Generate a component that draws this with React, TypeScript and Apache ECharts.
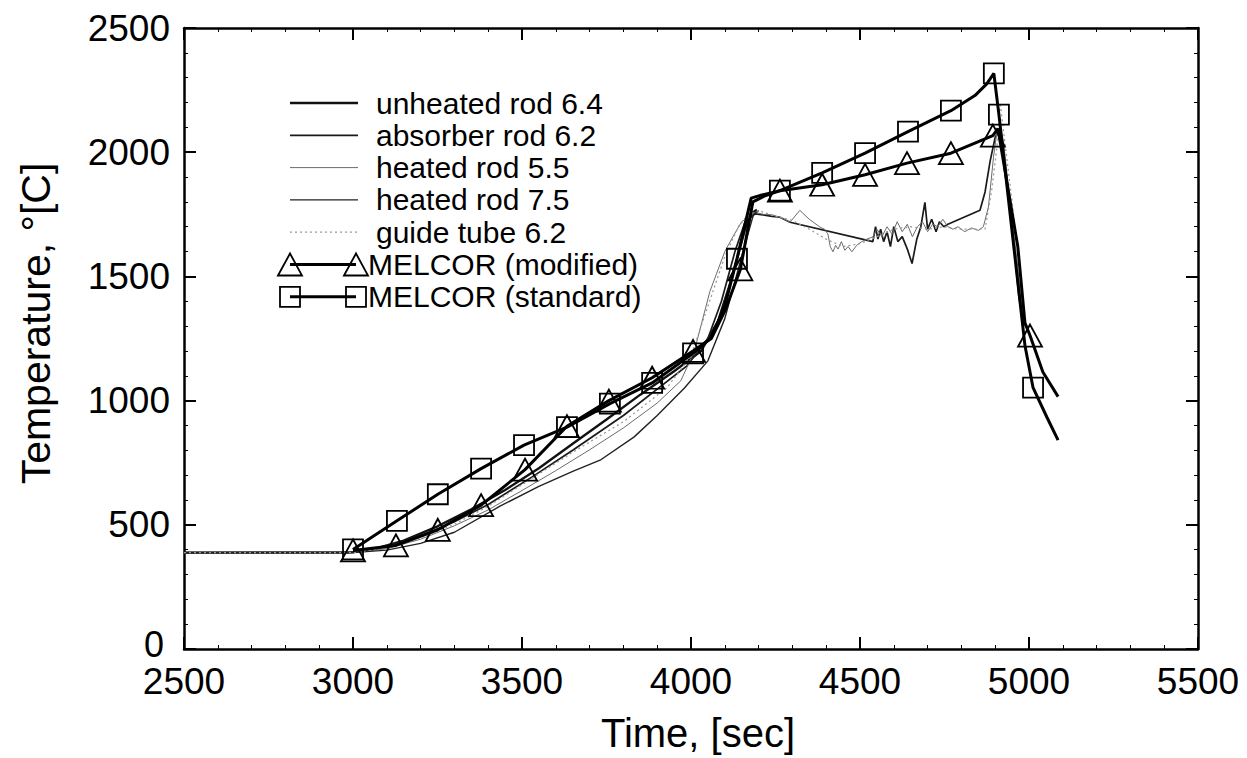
import React, { useEffect, useRef } from "react";
import * as echarts from "echarts";

// ---------- axis ticks ----------
const xTickLabels = ["2500", "3000", "3500", "4000", "4500", "5000", "5500"];
const yTickLabels = ["0", "500", "1000", "1500", "2000", "2500"];

// ---------- experimental data ----------
const unheatedTime = [2500, 2990, 3050, 3150, 3250, 3350, 3450, 3550, 3650, 3750, 3850, 3950, 4030, 4080, 4120, 4160, 4180, 4195];
const unheatedTemp = [388, 388, 398, 436, 494, 562, 640, 728, 826, 924, 1024, 1118, 1200, 1320, 1490, 1690, 1755, 1768];

const absorberTime = [2500, 3000, 3100, 3200, 3300, 3400, 3529, 3650, 3800, 3988, 4050, 4090, 4130, 4160, 4190, 4213, 4240, 4263, 4293, 4538, 4546, 4553, 4561, 4570, 4580, 4590, 4600, 4612, 4625, 4640, 4654, 4668, 4680, 4692, 4700, 4712, 4725, 4735, 4748, 4760, 4855, 4870, 4885, 4900, 4915, 4930, 4950, 4970, 4985];
const absorberTemp = [388, 390, 412, 455, 512, 582, 692, 800, 940, 1140, 1250, 1400, 1600, 1720, 1752, 1748, 1742, 1738, 1718, 1640, 1700, 1650, 1690, 1640, 1680, 1620, 1700, 1640, 1660, 1610, 1552, 1650, 1700, 1798, 1690, 1730, 1680, 1720, 1700, 1710, 1766, 1840, 1964, 2060, 2095, 1950, 1700, 1420, 1300];

const heated55Time = [2500, 3000, 3100, 3200, 3300, 3400, 3500, 3600, 3700, 3800, 3900, 3970, 4010, 4056, 4100, 4124, 4150, 4189, 4213, 4240, 4263, 4293, 4322, 4350, 4382, 4395, 4405, 4412, 4420, 4428, 4435, 4445, 4455, 4465, 4476, 4490, 4505, 4520, 4538, 4550, 4565, 4580, 4595, 4610, 4625, 4640, 4655, 4670, 4685, 4700, 4715, 4730, 4745, 4760, 4775, 4790, 4810, 4830, 4850, 4865, 4880, 4895, 4905, 4915, 4925, 4945, 4965, 4982];
const heated55Temp = [388, 388, 404, 442, 496, 560, 638, 718, 802, 890, 990, 1080, 1200, 1440, 1600, 1660, 1720, 1758, 1750, 1748, 1738, 1718, 1766, 1730, 1698, 1690, 1671, 1620, 1599, 1625, 1610, 1640, 1605, 1620, 1599, 1625, 1640, 1650, 1659, 1690, 1660, 1700, 1670, 1720, 1680, 1710, 1660, 1700, 1720, 1680, 1710, 1700, 1730, 1700, 1690, 1700, 1680, 1695, 1685, 1700, 1780, 1980, 2080, 2100, 2040, 1780, 1560, 1330];

const heated75Time = [2500, 3000, 3100, 3200, 3300, 3435, 3550, 3650, 3731, 3831, 3900, 3980, 4050, 4100, 4150, 4185, 4200];
const heated75Temp = [388, 388, 398, 425, 470, 575, 655, 715, 760, 853, 940, 1050, 1160, 1330, 1580, 1750, 1765];

const guideTime = [2500, 3000, 3100, 3200, 3300, 3400, 3533, 3650, 3800, 3929, 4000, 4050, 4100, 4140, 4170, 4200, 4250, 4300, 4350, 4400, 4450, 4500, 4550, 4600, 4650, 4700, 4750, 4790, 4870, 4890, 4905, 4915, 4925, 4950, 4970];
const guideTemp = [388, 388, 408, 448, 502, 575, 690, 792, 915, 1052, 1180, 1380, 1580, 1700, 1750, 1765, 1742, 1725, 1690, 1650, 1620, 1632, 1660, 1690, 1700, 1690, 1700, 1690, 1690, 1850, 2020, 2200, 2080, 1800, 1550];

// ---------- MELCOR data ----------
const melcorModTime = [3000, 3127, 3251, 3379, 3509, 3633, 3757, 3885, 4006, 4060, 4100, 4146, 4183, 4215, 4263, 4388, 4515, 4639, 4769, 4893, 4908, 4967, 4988, 5003, 5041, 5086];
const melcorModTemp = [397, 417, 480, 579, 722, 897, 1000, 1092, 1200, 1250, 1360, 1528, 1800, 1822, 1845, 1869, 1909, 1956, 1996, 2067, 2095, 1619, 1313, 1262, 1115, 1016];
const melcorModMarks = [3000, 3127, 3251, 3379, 3509, 3633, 3757, 3885, 4006, 4146, 4263, 4388, 4515, 4639, 4769, 4893, 5003];

const melcorStdTime = [3000, 3130, 3251, 3379, 3506, 3633, 3760, 3885, 4006, 4060, 4100, 4136, 4178, 4210, 4263, 4388, 4515, 4642, 4769, 4840, 4875, 4896, 4911, 4988, 5012, 5053, 5086];
const melcorStdTemp = [401, 516, 623, 726, 821, 893, 988, 1071, 1190, 1255, 1380, 1571, 1815, 1828, 1845, 1917, 1996, 2083, 2167, 2228, 2275, 2317, 2151, 1222, 1052, 933, 841];
const melcorStdMarks = [3000, 3130, 3251, 3379, 3506, 3633, 3760, 3885, 4006, 4136, 4263, 4388, 4515, 4642, 4769, 4896, 4911, 5012];

const expNames = ["unheated rod 6.4", "absorber rod 6.2", "heated rod 5.5", "heated rod 7.5", "guide tube 6.2"];
const melcorNames = ["MELCOR (modified)", "MELCOR (standard)"];

const FONT = "Liberation Sans";

function pairs(t: number[], v: number[]) {
  return t.map((x, i) => [x, v[i]]);
}

function markedPairs(t: number[], v: number[], marks: number[]) {
  return t.map((x, i) => ({ value: [x, v[i]], symbol: marks.includes(x) ? undefined : "none" }));
}

export default function App() {
  const ref = useRef<HTMLDivElement>(null);

  useEffect(() => {
    if (!ref.current) return;
    const chart = echarts.init(ref.current, undefined, { renderer: "svg" });

    const expData = [
      pairs(unheatedTime, unheatedTemp),
      pairs(absorberTime, absorberTemp),
      pairs(heated55Time, heated55Temp),
      pairs(heated75Time, heated75Temp),
      pairs(guideTime, guideTemp),
    ];
    const expStyles: any[] = [
      { color: "#111", width: 2.4, type: "solid" },
      { color: "#1a1a1a", width: 1.7, type: "solid" },
      { color: "#6c6c6c", width: 1, type: "solid" },
      { color: "#222", width: 1.4, type: "solid" },
      { color: "#9a9a9a", width: 1.3, type: [2, 3] },
    ];

    const expSeries = expData.map((d, i) => ({
      type: "line",
      name: expNames[i],
      data: d,
      showSymbol: false,
      symbol: "none",
      lineStyle: expStyles[i],
      itemStyle: { color: expStyles[i].color },
      z: 2,
      silent: true,
    }));

    const melSeries = [
      {
        type: "line",
        name: melcorNames[0],
        data: markedPairs(melcorModTime, melcorModTemp, melcorModMarks),
        symbol: "triangle",
        symbolSize: [24, 22],
        showAllSymbol: true,
        lineStyle: { color: "#000", width: 3 },
        itemStyle: { color: "rgba(0,0,0,0)", borderColor: "#000", borderWidth: 1.8 },
        z: 4,
        silent: true,
      },
      {
        type: "line",
        name: melcorNames[1],
        data: markedPairs(melcorStdTime, melcorStdTemp, melcorStdMarks),
        symbol: "rect",
        symbolSize: 20,
        showAllSymbol: true,
        lineStyle: { color: "#000", width: 3 },
        itemStyle: { color: "rgba(0,0,0,0)", borderColor: "#000", borderWidth: 1.8 },
        z: 4,
        silent: true,
      },
    ];

    // legend drawn as graphic
    const legendX1 = 290;
    const legendX2 = 358;
    const legendTextX = 376;
    const rowY0 = 103;
    const rowDy = 32.3;
    const legendEls: any[] = [];
    expNames.forEach((n, i) => {
      const y = rowY0 + i * rowDy;
      legendEls.push({
        type: "line",
        shape: { x1: legendX1, y1: y, x2: legendX2, y2: y },
        style: { stroke: expStyles[i].color, lineWidth: expStyles[i].width, lineDash: Array.isArray(expStyles[i].type) ? expStyles[i].type : null },
      });
      legendEls.push({
        type: "text",
        x: legendTextX,
        y,
        style: { text: n, fontSize: 30, fontFamily: FONT, fill: "#000", verticalAlign: "middle", align: "left" },
      });
    });
    melcorNames.forEach((n, k) => {
      const y = rowY0 + (5 + k) * rowDy;
      const cxs = [290, 356];
      legendEls.push({
        type: "line",
        shape: { x1: cxs[0], y1: y, x2: cxs[1], y2: y },
        style: { stroke: "#000", lineWidth: 3 },
      });
      cxs.forEach((cx) => {
        if (k === 0) {
          legendEls.push({
            type: "polygon",
            shape: { points: [[cx - 12, y + 11], [cx, y - 11], [cx + 12, y + 11]] },
            style: { fill: "none", stroke: "#000", lineWidth: 1.8 },
          });
        } else {
          legendEls.push({
            type: "rect",
            shape: { x: cx - 10, y: y - 10, width: 20, height: 20 },
            style: { fill: "none", stroke: "#000", lineWidth: 1.8 },
          });
        }
      });
      legendEls.push({
        type: "text",
        x: legendTextX - 8,
        y,
        style: { text: n, fontSize: 30, fontFamily: FONT, fill: "#000", verticalAlign: "middle", align: "left" },
      });
    });

    const axisCommon = {
      axisLine: { show: true, onZero: false, lineStyle: { color: "#000", width: 2.5 } },
      axisTick: { show: true, inside: true, length: 12, lineStyle: { color: "#000", width: 2 } },
      minorTick: { show: true, splitNumber: 5, length: 4, lineStyle: { color: "#000", width: 1 } },
      splitLine: { show: false },
      minorSplitLine: { show: false },
    };

    const xLabelFmt = (v: number) => {
      const s = String(v);
      return xTickLabels.includes(s) ? s : "";
    };
    const yLabelFmt = (v: number) => {
      const s = String(v);
      if (!yTickLabels.includes(s)) return "";
      return s === "0" ? "{z|" + s + "}" : s;
    };

    chart.setOption({
      animation: false,
      backgroundColor: "#fff",
      grid: { left: 184, top: 28, right: 49, bottom: 100, containLabel: false },
      xAxis: [
        {
          type: "value",
          min: 2500,
          max: 5500,
          interval: 500,
          position: "bottom",
          name: "Time, [sec]",
          nameLocation: "middle",
          nameGap: 64,
          nameTextStyle: { fontSize: 40, fontFamily: FONT, color: "#000", padding: [0, 0, 0, 14] },
          axisLabel: { formatter: xLabelFmt, fontSize: 37, lineHeight: 30, fontFamily: FONT, color: "#000", margin: 17 },
          ...axisCommon,
        },
        {
          type: "value",
          min: 2500,
          max: 5500,
          interval: 500,
          position: "top",
          axisLabel: { show: false },
          ...axisCommon,
        },
      ],
      yAxis: [
        {
          type: "value",
          min: 0,
          max: 2500,
          interval: 500,
          position: "left",
          name: "Temperature, °[C]",
          nameLocation: "middle",
          nameGap: 128,
          nameTextStyle: { fontSize: 41, fontFamily: FONT, color: "#000", padding: [0, 0, 0, 30] },
          axisLabel: {
            formatter: yLabelFmt,
            fontSize: 37,
            fontFamily: FONT,
            color: "#000",
            margin: 14,
            rich: { z: { fontSize: 36, lineHeight: 20, fontFamily: FONT, color: "#000", padding: [0, 6, 10, 0] } },
          },
          ...axisCommon,
        },
        {
          type: "value",
          min: 0,
          max: 2500,
          interval: 500,
          position: "right",
          axisLabel: { show: false },
          ...axisCommon,
        },
      ],
      series: [...expSeries, ...melSeries],
      graphic: legendEls,
    });

    return () => chart.dispose();
  }, []);

  return <div ref={ref} style={{ position: "absolute", left: 0, top: 0, width: 1247, height: 758 }} />;
}
